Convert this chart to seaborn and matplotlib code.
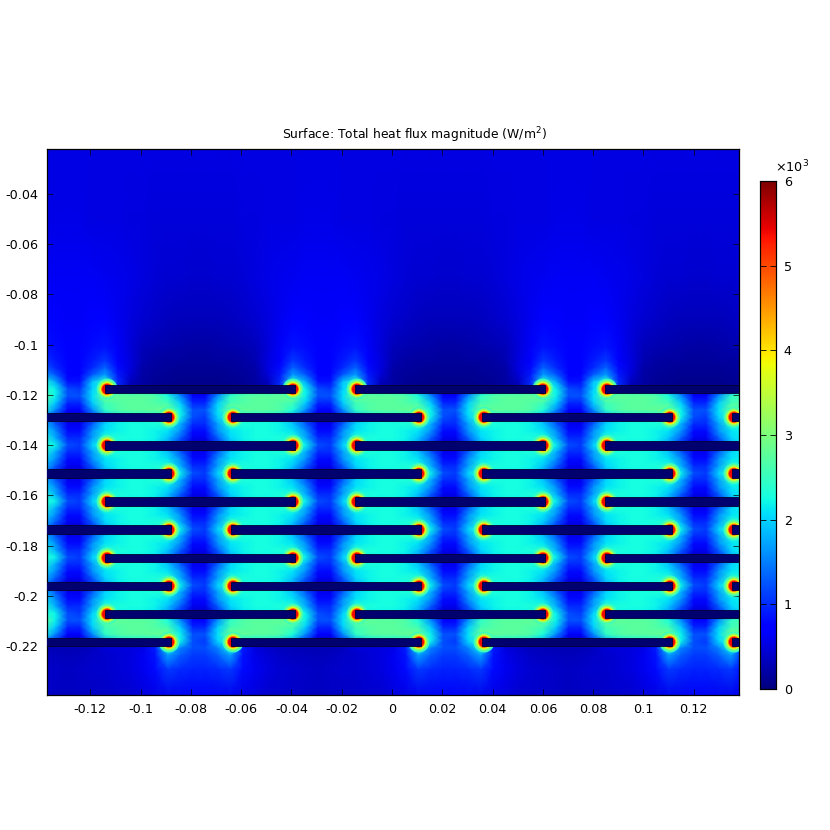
import numpy as np
import matplotlib
matplotlib.use("Agg")
import matplotlib.pyplot as plt
from matplotlib.patches import Rectangle
import seaborn as sns

# ---- geometry (data units) ----
bar_rows = [-0.1177, -0.1289, -0.1401, -0.1513, -0.1625, -0.1737, -0.1849, -0.1961, -0.2073, -0.2184]
odd_lefts = [-0.1141, -0.0147, 0.0847]
odd_rights = [-0.0386, 0.0608, 0.1420]
even_lefts = [-0.1420, -0.0640, 0.0358, 0.1352]
even_rights = [-0.0879, 0.0115, 0.1113, 0.1420]
bar_height = 0.0034

x_ticks = [-0.12, -0.1, -0.08, -0.06, -0.04, -0.02, 0, 0.02, 0.04, 0.06, 0.08, 0.1, 0.12]
x_labels = ["-0.12", "-0.1", "-0.08", "-0.06", "-0.04", "-0.02", "0", "0.02", "0.04", "0.06", "0.08", "0.1", "0.12"]
y_ticks = [-0.04, -0.06, -0.08, -0.1, -0.12, -0.14, -0.16, -0.18, -0.2, -0.22]
y_labels = ["-0.04", "-0.06", "-0.08", "-0.1", "-0.12", "-0.14", "-0.16", "-0.18", "-0.2", "-0.22"]
cbar_ticks = [0, 1, 2, 3, 4, 5, 6]

# ---- heat flux (×10³ W/m²) estimated over one repeating cell, 20 columns ----
flux_k0 = [2.4, 2.2, 2.2, 2.2, 2.1, 1.7, 1.0, 0.35, 0.35, 1.0, 1.7, 2.1, 2.2, 2.2, 2.2, 2.4, 2.2, 1.2, 1.1, 2.0]
flux_k1 = [2.4, 2.3, 2.25, 2.25, 2.2, 1.9, 1.3, 0.6, 0.6, 1.3, 2.0, 2.2, 2.25, 2.25, 2.3, 2.4, 1.8, 1.0, 1.0, 1.7]
flux_k2 = [2.1, 2.2, 2.25, 2.25, 2.2, 2.1, 1.6, 0.8, 0.8, 1.6, 2.1, 2.2, 2.25, 2.25, 2.2, 2.1, 1.6, 0.8, 0.8, 1.6]
flux_k3 = [2.0, 2.2, 2.25, 2.25, 2.3, 2.4, 1.8, 1.0, 1.0, 1.7, 2.4, 2.3, 2.25, 2.25, 2.2, 1.9, 1.3, 0.6, 0.6, 1.3]
gap_scale = [1.22, 1.0, 1.0, 1.0, 1.0, 1.0, 1.0, 1.0, 1.22]

# field above the first bar row
upper_rows = [-35, -24, -16, -10, -6, -4, -3, -2, -1, 0]
upper_flux = [
    [.52, .52, .52, .52, .52, .52, .52, .52, .52, .52, .52, .52, .52, .52, .52, .52, .52, .52, .52, .52],
    [.52, .52, .51, .50, .49, .48, .48, .48, .48, .48, .49, .50, .51, .52, .52, .53, .54, .54, .54, .53],
    [.60, .58, .55, .50, .46, .44, .43, .42, .42, .43, .44, .46, .50, .55, .58, .60, .62, .62, .62, .61],
    [.68, .60, .50, .44, .38, .34, .32, .31, .31, .32, .34, .38, .44, .50, .60, .68, .68, .65, .65, .68],
    [.85, .65, .48, .32, .26, .24, .22, .21, .21, .22, .24, .26, .32, .48, .65, .85, .80, .70, .70, .80],
    [1.1, .75, .50, .26, .20, .18, .17, .16, .16, .17, .18, .20, .26, .50, .75, 1.1, .90, .70, .70, .90],
    [1.35, .80, .50, .22, .17, .15, .14, .13, .13, .14, .15, .17, .22, .50, .80, 1.35, 1.0, .70, .70, 1.0],
    [1.7, .90, .45, .20, .15, .12, .11, .10, .10, .11, .12, .15, .20, .45, .90, 1.7, 1.3, .72, .72, 1.3],
    [2.4, 1.0, .35, .20, .14, .10, .08, .08, .08, .08, .10, .14, .20, .35, 1.0, 2.4, 1.8, .85, .85, 1.9],
    [2.4, 1.0, .30, .15, .10, .08, .08, .08, .08, .08, .08, .10, .15, .30, 1.0, 2.4, 2.2, 1.2, 1.1, 2.0],
]
# field below the last bar row
lower_rows = [36, 37, 38, 40, 44]
lower_flux = [
    [.30, .28, .28, .30, .40, 2.4, 2.2, 1.2, 1.1, 2.0, 2.4, .40, .30, .28, .26, .25, .25, .25, .25, .26],
    [.45, .48, .50, .55, .90, 2.2, 1.5, 1.2, 1.2, 1.5, 2.2, .90, .50, .40, .35, .32, .30, .30, .30, .35],
    [.42, .45, .50, .60, .85, 1.7, 1.3, 1.1, 1.1, 1.3, 1.7, .85, .55, .45, .38, .35, .33, .32, .33, .38],
    [.42, .45, .50, .60, .80, 1.1, 1.0, .95, .95, 1.0, 1.1, .80, .60, .50, .44, .40, .38, .37, .38, .40],
    [.38, .40, .42, .47, .52, .58, .60, .62, .62, .60, .58, .52, .47, .42, .40, .38, .36, .35, .36, .37],
]

# hot rings at the bar tips: (diameter in px, flux level)
ring_diam = [21, 18.5, 16.5, 14.8, 13.2, 12.2, 11.2, 10]
ring_flux = [2.5, 2.8, 3.1, 3.5, 3.9, 4.4, 4.9, 5.4]
tip_inset = 0.0008

sns.set_theme(style="white", rc={"axes.edgecolor": "black", "xtick.color": "black", "ytick.color": "black"})
plt.rcParams["font.family"] = ["DejaVu Sans"]

W, H = 830, 830
fig = plt.figure(figsize=(W / 100, H / 100), dpi=100)
ax = fig.add_axes([47 / W, 1 - 695 / H, 692 / W, 546 / H])
cax = fig.add_axes([760 / W, 1 - 689 / H, 15.5 / W, 508 / H])

x0, dx = -0.1141 - 5 * 0.00498, 0.00498
y0, dy = bar_rows[0], 0.00279
col = lambda x: (np.asarray(x, float) - x0) / dx
row = lambda y: (y0 - np.asarray(y, float)) / dy
n_cols = 57
wrap = (np.arange(n_cols) - 5) % 20

tile = np.array([flux_k0, flux_k1, flux_k2, flux_k3])
stack = []
for j, s in enumerate(gap_scale):
    block = np.roll(tile, 10 * j, axis=1).copy()
    block[1:] = block[1:] * s
    stack.append(block)
stack.append(np.roll(tile, 90, axis=1)[:1])
field = np.vstack(stack)[:, wrap]

sns.heatmap(field, ax=ax, cmap="jet", vmin=0, vmax=6, cbar_ax=cax, shading="gouraud",
            xticklabels=False, yticklabels=False, cbar_kws={"ticks": cbar_ticks})

cols = np.arange(n_cols)
ax.pcolormesh(cols, upper_rows, np.array(upper_flux)[:, wrap], shading="gouraud", cmap="jet", vmin=0, vmax=6)
ax.pcolormesh(cols, lower_rows, np.array(lower_flux)[:, wrap], shading="gouraud", cmap="jet", vmin=0, vmax=6)

# tips
xlim = (-0.1372, 0.1380)
ylim = (-0.2395, -0.0221)
tips_x, tips_y = [], []
for n, yb in enumerate(bar_rows):
    lefts, rights = (odd_lefts, odd_rights) if n % 2 == 0 else (even_lefts, even_rights)
    for a, b in zip(lefts, rights):
        if xlim[0] < a < xlim[1]:
            tips_x.append(a + tip_inset)
            tips_y.append(yb)
        if xlim[0] < b < xlim[1]:
            tips_x.append(b - tip_inset)
            tips_y.append(yb)
for d, v in zip(ring_diam, ring_flux):
    ax.scatter(col(tips_x), row(tips_y), s=(d * 0.72) ** 2, c=[v] * len(tips_x), cmap="jet",
               vmin=0, vmax=6, linewidths=0, zorder=3, clip_on=True)

# bars
for n, yb in enumerate(bar_rows):
    lefts, rights = (odd_lefts, odd_rights) if n % 2 == 0 else (even_lefts, even_rights)
    for a, b in zip(lefts, rights):
        ax.add_patch(Rectangle((col(a), row(yb + bar_height / 2)), col(b) - col(a), bar_height / dy,
                               facecolor="#00006e", edgecolor="#000033", linewidth=0.6, zorder=4))

ax.set_xlim(col(xlim[0]), col(xlim[1]))
ax.set_ylim(row(ylim[0]), row(ylim[1]))
ax.set_axisbelow(False)
ax.set_xticks(col(x_ticks))
ax.set_xticklabels(x_labels)
ax.set_yticks(row(y_ticks))
ax.set_yticklabels(y_labels, rotation=0)
ax.tick_params(axis="both", which="major", direction="in", length=4, width=0.5, labelsize=9.2,
               top=True, right=True, bottom=True, left=True, pad=6, color="black", labelcolor="black")
for s in ax.spines.values():
    s.set_visible(True)
    s.set_color("black")
    s.set_linewidth(0.9)
ax.set_title("Surface: Total heat flux magnitude (W/m$^2$)", fontsize=8.9, pad=7, color="black", x=(414 - 47) / 692)

cax.set_axisbelow(False)
cax.tick_params(axis="y", direction="in", length=4, width=0.6, labelsize=9.2, right=True, left=True,
                pad=6, color="black", labelcolor="black")
for s in cax.spines.values():
    s.set_visible(True)
    s.set_color("black")
    s.set_linewidth(0.8)
fig.text(775 / W, 1 - 167 / H, r"$\mathregular{\times 10^3}$", fontsize=9.2, color="black", va="center", ha="left")

fig.savefig("out.png", dpi=100, facecolor="white")
